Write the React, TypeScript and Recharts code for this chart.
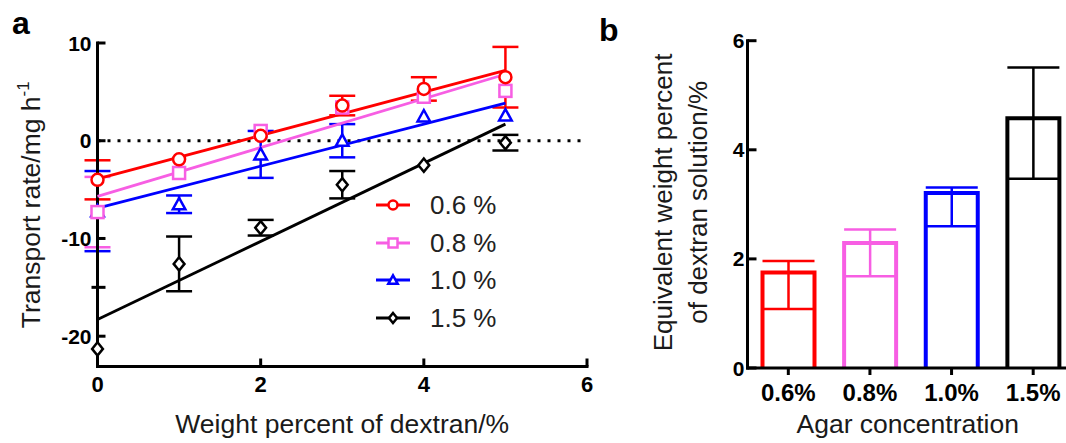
import React from "react";
import {
  ScatterChart,
  Scatter,
  BarChart,
  Bar,
  XAxis,
  YAxis,
  ErrorBar,
  ReferenceLine,
  Legend,
} from "recharts";

const FONT = '"Liberation Sans", Arial, sans-serif';
const RED = "#ff0000";
const PINK = "#f75ee3";
const BLUE = "#0000ff";
const BLACK = "#000000";

// ---------- panel a: transport rate vs dextran ----------
const dextran = [0, 1, 2, 3, 4, 5];
const rate06 = [-4.0, -1.9, 0.5, 3.6, 5.3, 6.5];
const err06 = [2.0, 0, 0, 1.0, 1.2, 3.1];
const rate08 = [-7.3, -3.3, 1.0, 3.4, 4.5, 5.1];
const err08 = [3.6, 0, 0, 0, 0, 0];
const rate10 = [-7.2, -6.5, -1.4, 0.0, 2.5, 2.6];
const err10 = [4.1, 0.9, 2.4, 1.7, 0, 0];
const rate15 = [-21.3, -12.6, -8.9, -4.5, -2.5, -0.2];
const err15 = [0, 2.8, 0.8, 1.4, 0, 0.8];

// linear fits, read at both ends
const fitX = [0, 5];
const fit06 = [-3.9, 7.2];
const fit08 = [-5.7, 6.8];
const fit10 = [-6.9, 3.85];
const fit15 = [-18.3, 1.7];

const xTicksA = [0, 2, 4, 6];
const yTicksA = [-20, -15, -10, 0, 10];

// ---------- panel b: equivalent weight percent ----------
const agar = ["0.6%", "0.8%", "1.0%", "1.5%"];
const equiv = [1.75, 2.29, 3.21, 4.58];
const equivErrLow = [0.67, 0.61, 0.61, 1.11];
const equivErrHigh = [0.21, 0.25, 0.1, 0.93];
const barColors = [RED, PINK, BLUE, BLACK];
const yTicksB = [0, 2, 4, 6];

const seriesA = [
  { name: "0.6 %", color: RED, shape: "circle", rate: rate06, err: err06, fit: fit06 },
  { name: "0.8 %", color: PINK, shape: "square", rate: rate08, err: err08, fit: fit08 },
  { name: "1.0 %", color: BLUE, shape: "triangle", rate: rate10, err: err10, fit: fit10 },
  { name: "1.5 %", color: BLACK, shape: "diamond", rate: rate15, err: err15, fit: fit15 },
];

const barData = agar.map((name, i) => {
  const row: any = { name };
  row[`v${i}`] = equiv[i];
  row[`e${i}`] = [equivErrLow[i], equivErrHigh[i]];
  return row;
});

function Marker({ kind, cx, cy, color, r }: { kind: string; cx: number; cy: number; color: string; r: number }) {
  const common = { fill: "#fff", stroke: color, strokeWidth: 2.5 };
  if (kind === "circle") return <circle cx={cx} cy={cy} r={r} {...common} />;
  if (kind === "square") return <rect x={cx - r} y={cy - r} width={2 * r} height={2 * r} {...common} />;
  if (kind === "triangle")
    return <path d={`M${cx},${cy - r * 1.05}L${cx + r * 1.05},${cy + r * 0.85}L${cx - r * 1.05},${cy + r * 0.85}Z`} {...common} />;
  return <path d={`M${cx},${cy - r * 1.1}L${cx + r * 0.9},${cy}L${cx},${cy + r * 1.1}L${cx - r * 0.9},${cy}Z`} {...common} />;
}

// ticks drawn inward, like the original
const YTickA = ({ x, y, payload }: any) => {
  const minor = payload.value === -15;
  return (
    <g>
      <line x1={minor ? x - 6 : x} x2={x + 8} y1={y} y2={y} stroke="#000" strokeWidth={3} />
      {!minor && (
        <text x={x - 6} y={y} dy="0.36em" textAnchor="end" fontFamily={FONT} fontWeight="bold" fontSize={21} fill="#000">
          {payload.value}
        </text>
      )}
    </g>
  );
};

const XTickA = ({ x, y, payload }: any) => (
  <g>
    <line x1={x} x2={x} y1={y} y2={y - 8} stroke="#000" strokeWidth={3} />
    <text x={x} y={y + 25} textAnchor="middle" fontFamily={FONT} fontWeight="bold" fontSize={22} fill="#000">
      {payload.value}
    </text>
  </g>
);

const YTickB = ({ x, y, payload }: any) => (
  <g>
    <line x1={x} x2={x + 9} y1={y} y2={y} stroke="#000" strokeWidth={3} />
    <text x={x - 3} y={y} dy="0.36em" textAnchor="end" fontFamily={FONT} fontWeight="bold" fontSize={21} fill="#000">
      {payload.value}
    </text>
  </g>
);

const XTickB = ({ x, y, payload }: any) => (
  <g>
    <line x1={x} x2={x} y1={y} y2={y + 7} stroke="#000" strokeWidth={3} />
    <text x={x} y={y + 33} textAnchor="middle" fontFamily={FONT} fontWeight="bold" fontSize={24} fill="#000">
      {payload.value}
    </text>
  </g>
);

function LegendA() {
  return (
    <div style={{ fontFamily: FONT }}>
      {seriesA.map((s) => (
        <div key={s.name} style={{ display: "flex", alignItems: "center", height: 37.7 }}>
          <svg width={36} height={20} style={{ overflow: "visible" }}>
            <line x1={1} x2={35} y1={10} y2={10} stroke={s.color} strokeWidth={3} />
            <Marker kind={s.shape} cx={18} cy={10} color={s.color} r={4.5} />
          </svg>
          <span style={{ marginLeft: 19, fontSize: 26, color: "#222", lineHeight: 1 }}>{s.name}</span>
        </div>
      ))}
    </div>
  );
}

// hollow bar, open at the bottom so the axis stays black
const OpenBar = (color: string) => (props: any) => {
  const { x, y, width, height } = props;
  if (!height || height <= 0) return <g />;
  return (
    <path
      d={`M${x},${y + height}L${x},${y}L${x + width},${y}L${x + width},${y + height}`}
      fill="#fff"
      stroke={color}
      strokeWidth={4}
    />
  );
};

const axisStyle = { stroke: "#000", strokeWidth: 3, strokeLinecap: "square" as const };

function PanelA() {
  return (
    <ScatterChart width={600} height={443} margin={{ top: 43, right: 13, bottom: 0, left: 0 }}>
      <XAxis
        type="number"
        dataKey="x"
        domain={[0, 6]}
        ticks={xTicksA}
        height={76.5}
        tickSize={0}
        tickMargin={0}
        tickLine={false}
        axisLine={axisStyle}
        tick={<XTickA />}
        label={{
          content: ({ viewBox }: any) => (
            <text x={viewBox.x + viewBox.width / 2} y={viewBox.y + 66} textAnchor="middle" fontFamily={FONT} fontSize={26.5} fill="#1a1a1a">
              Weight percent of dextran/%
            </text>
          ),
        }}
      />
      <YAxis
        type="number"
        dataKey="y"
        domain={[-23.1, 10]}
        ticks={yTicksA}
        width={97.5}
        tickSize={0}
        tickMargin={0}
        tickLine={false}
        axisLine={axisStyle}
        tick={<YTickA />}
        label={{
          content: ({ viewBox }: any) => {
            const cx = viewBox.x + 30;
            const cy = viewBox.y + viewBox.height / 2;
            return (
              <text x={cx} y={cy} textAnchor="middle" dy="0.36em" transform={`rotate(-90 ${cx} ${cy})`} fontFamily={FONT} fontSize={26.5} fill="#1a1a1a">
                Transport rate/mg h
                <tspan fontSize={17} dy={-11}>-1</tspan>
              </text>
            );
          },
        }}
      />
      <ReferenceLine y={0} stroke="#000" strokeWidth={3} strokeDasharray="3 7" />
      {[...seriesA].reverse().map((s) => (
        <Scatter
          key={`fit-${s.name}`}
          data={fitX.map((x, i) => ({ x, y: s.fit[i] }))}
          line={{ stroke: s.color, strokeWidth: 2.8 }}
          shape={() => <g />}
          isAnimationActive={false}
        />
      ))}
      {[...seriesA].reverse().map((s) => (
        <Scatter
          key={s.name}
          name={s.name}
          data={dextran.map((x, i) => ({ x, y: s.rate[i], err: s.err[i] }))}
          fill={s.color}
          shape={(p: any) => <Marker kind={s.shape} cx={p.cx} cy={p.cy} color={s.color} r={6} />}
          isAnimationActive={false}
        >
          <ErrorBar dataKey="err" direction="y" width={13} stroke={s.color} strokeWidth={2.5} />
        </Scatter>
      ))}
      <Legend
        layout="vertical"
        align="center"
        verticalAlign="middle"
        content={() => <LegendA />}
        wrapperStyle={{ left: 375, top: 186, width: 130 }}
      />
    </ScatterChart>
  );
}

function PanelB() {
  return (
    <BarChart width={480} height={443} data={barData} margin={{ top: 40.7, right: 6, bottom: 0, left: 0 }}>
      <XAxis
        dataKey="name"
        height={75}
        tickSize={0}
        tickMargin={0}
        tickLine={false}
        axisLine={axisStyle}
        tick={<XTickB />}
        interval={0}
        label={{
          content: ({ viewBox }: any) => (
            <text x={viewBox.x + viewBox.width / 2 - 3} y={viewBox.y + 65} textAnchor="middle" fontFamily={FONT} fontSize={26.5} fill="#1a1a1a">
              Agar concentration
            </text>
          ),
        }}
      />
      <YAxis
        type="number"
        domain={[0, 6]}
        ticks={yTicksB}
        width={147.5}
        tickSize={0}
        tickMargin={0}
        tickLine={false}
        axisLine={axisStyle}
        tick={<YTickB />}
        label={{
          content: ({ viewBox }: any) => {
            const cy = viewBox.y + viewBox.height / 2 - 2;
            const x1 = viewBox.x + 63;
            const x2 = viewBox.x + 98;
            return (
              <g fontFamily={FONT} fontSize={26} fill="#1a1a1a">
                <text x={x1} y={cy} textAnchor="middle" dy="0.36em" transform={`rotate(-90 ${x1} ${cy})`}>
                  Equivalent weight percent
                </text>
                <text x={x2} y={cy} textAnchor="middle" dy="0.36em" transform={`rotate(-90 ${x2} ${cy})`}>
                  of dextran solution/%
                </text>
              </g>
            );
          },
        }}
      />
      {agar.map((name, i) => (
        <Bar key={name} dataKey={`v${i}`} stackId="s" barSize={52} shape={OpenBar(barColors[i])} isAnimationActive={false}>
          <ErrorBar dataKey={`e${i}`} direction="y" width={26} stroke={barColors[i]} strokeWidth={2.5} />
        </Bar>
      ))}
    </BarChart>
  );
}

export default function App() {
  return (
    <div style={{ position: "fixed", left: 0, top: 0, width: 1066, height: 443, overflow: "hidden", background: "#fff" }}>
      <div style={{ position: "absolute", left: 0, top: 0 }}>
        <PanelA />
      </div>
      <div style={{ position: "absolute", left: 600, top: 0 }}>
        <PanelB />
      </div>
      <svg width={1066} height={443} style={{ position: "absolute", left: 0, top: 0, pointerEvents: "none" }}>
        <text x={12} y={34} fontFamily={FONT} fontWeight="bold" fontSize={32} fill="#000">a</text>
        <text x={599} y={41} fontFamily={FONT} fontWeight="bold" fontSize={32} fill="#000">b</text>
      </svg>
    </div>
  );
}
